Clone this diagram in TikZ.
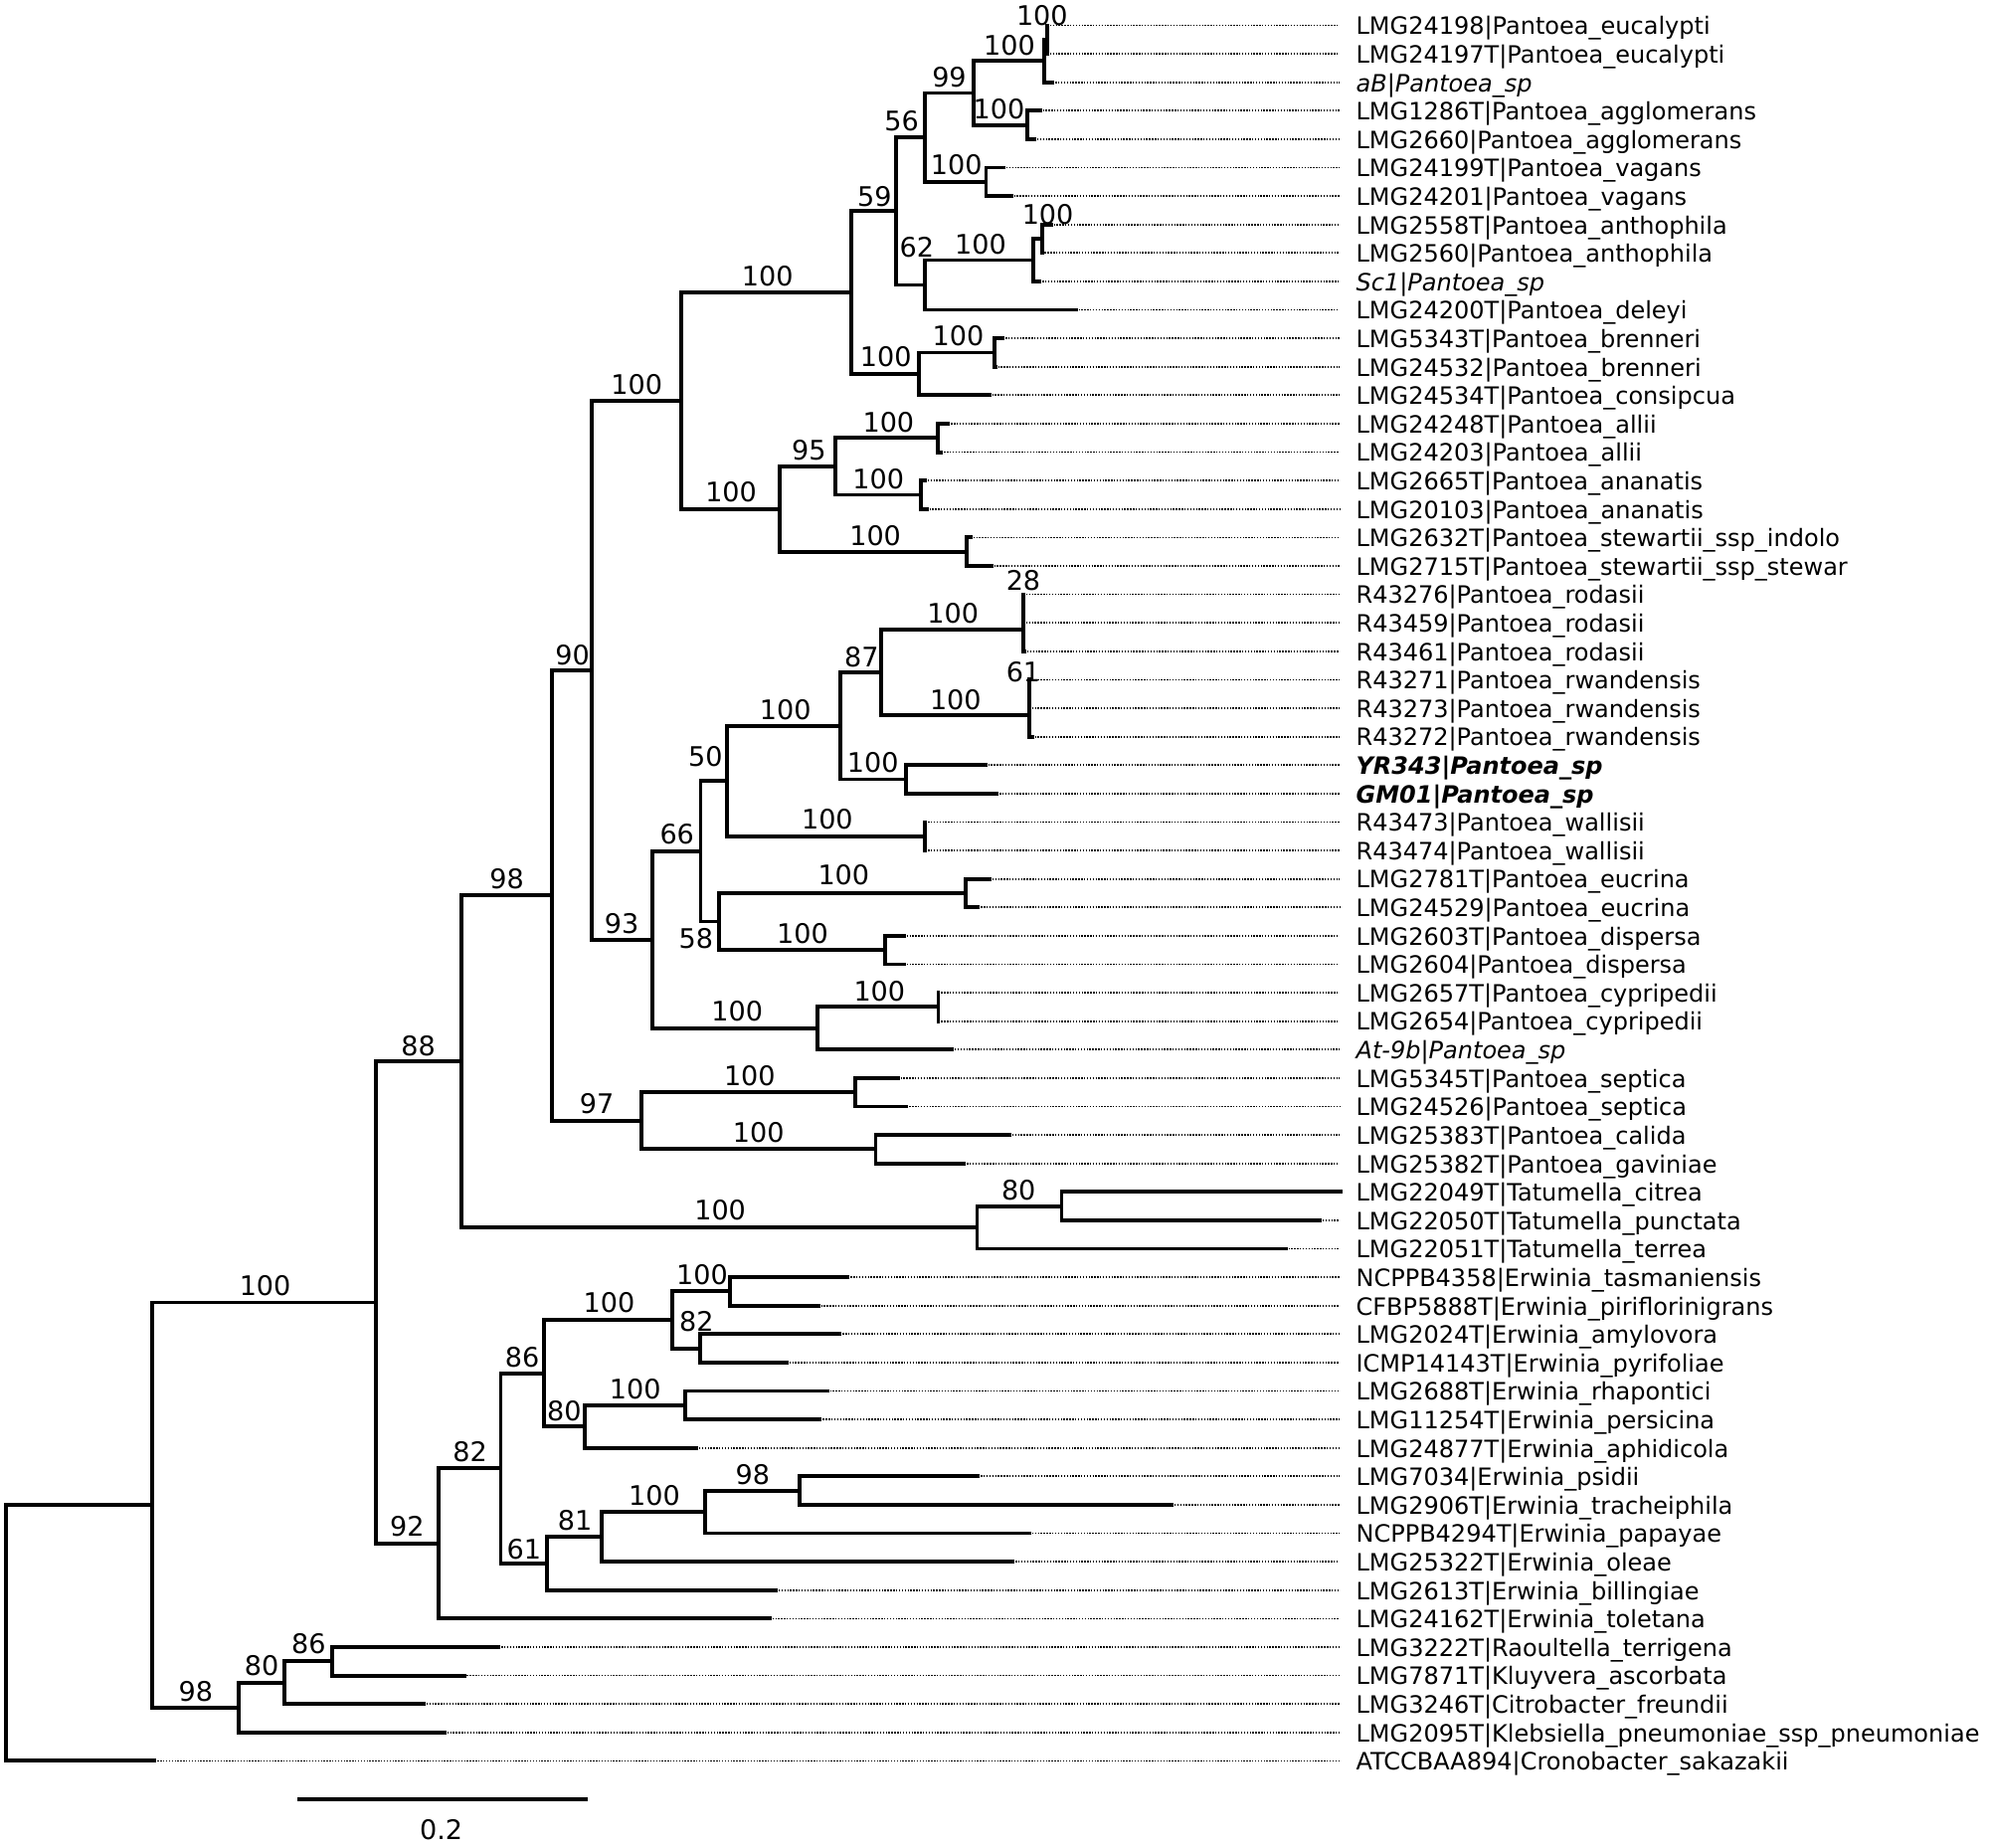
\documentclass[tikz,border=0pt]{standalone}
\usepackage{fontspec}
\setmainfont{DejaVu Sans}[ItalicFont={DejaVu Sans Oblique},BoldFont={DejaVu Sans Bold},BoldItalicFont={DejaVu Sans Bold Oblique}]
\usetikzlibrary{calc}
\pgfmathdeclarefunction{leafy}{1}{\pgfmathparse{20+22.426*(#1-1)}}
\tikzset{
	treeline/.style={line width=1.1pt, line cap=rect},
	dotline/.style={line width=0.5pt, dash pattern=on 0.4pt off 0.42pt},
	leaflab/.style={anchor=base west, inner sep=0pt, yshift=-2.65pt, font=\fontsize{6.83}{8}\selectfont},
	bslab/.style={inner sep=0pt, font=\fontsize{7.7}{9}\selectfont}
}

\begin{document}
\begin{tikzpicture}[x=0.012755cm, y=-0.012755cm]
	\useasboundingbox (0,0) rectangle (1568,1456);
	
	\def\dotend{1055.8};
	\def\labx{1068.5};
	
	\foreach \i/\tx/\lab in {
		1/825.5/{LMG24198|Pantoea\_eucalypti},
		2/825.5/{LMG24197T|Pantoea\_eucalypti},
		3/829.7/{\itshape aB|Pantoea\_sp},
		4/819.8/{LMG1286T|Pantoea\_agglomerans},
		5/815.4/{LMG2660|Pantoea\_agglomerans},
		6/791.1/{LMG24199T|Pantoea\_vagans},
		7/797.1/{LMG24201|Pantoea\_vagans},
		8/828.4/{LMG2558T|Pantoea\_anthophila},
		9/821.3/{LMG2560|Pantoea\_anthophila},
		10/819.5/{\itshape Sc1|Pantoea\_sp},
		11/848/{LMG24200T|Pantoea\_deleyi},
		12/790.5/{LMG5343T|Pantoea\_brenneri},
		13/784.5/{LMG24532|Pantoea\_brenneri},
		14/779.8/{LMG24534T|Pantoea\_consipcua},
		15/747.4/{LMG24248T|Pantoea\_allii},
		16/742/{LMG24203|Pantoea\_allii},
		17/729/{LMG2665T|Pantoea\_ananatis},
		18/730.4/{LMG20103|Pantoea\_ananatis},
		19/765/{LMG2632T|Pantoea\_stewartii\_ssp\_indolo},
		20/781.4/{LMG2715T|Pantoea\_stewartii\_ssp\_stewar},
		21/806.7/{R43276|Pantoea\_rodasii},
		22/806.7/{R43459|Pantoea\_rodasii},
		23/807.5/{R43461|Pantoea\_rodasii},
		24/811.3/{R43271|Pantoea\_rwandensis},
		25/811.3/{R43273|Pantoea\_rwandensis},
		26/813.5/{R43272|Pantoea\_rwandensis},
		27/776.7/{\bfseries\itshape YR343|Pantoea\_sp},
		28/785.8/{\bfseries\itshape GM01|Pantoea\_sp},
		29/729.3/{R43473|Pantoea\_wallisii},
		30/729.3/{R43474|Pantoea\_wallisii},
		31/780/{LMG2781T|Pantoea\_eucrina},
		32/771/{LMG24529|Pantoea\_eucrina},
		33/712.5/{LMG2603T|Pantoea\_dispersa},
		34/712.5/{LMG2604|Pantoea\_dispersa},
		35/739.7/{LMG2657T|Pantoea\_cypripedii},
		36/739.7/{LMG2654|Pantoea\_cypripedii},
		37/750.4/{\itshape At-9b|Pantoea\_sp},
		38/707.7/{LMG5345T|Pantoea\_septica},
		39/714.6/{LMG24526|Pantoea\_septica},
		40/795.7/{LMG25383T|Pantoea\_calida},
		41/759.9/{LMG25382T|Pantoea\_gaviniae},
		42/1056.8/{LMG22049T|Tatumella\_citrea},
		43/1040.4/{LMG22050T|Tatumella\_punctata},
		44/1013.4/{LMG22051T|Tatumella\_terrea},
		45/668.3/{NCPPB4358|Erwinia\_tasmaniensis},
		46/645/{CFBP5888T|Erwinia\_piriflorinigrans},
		47/662/{LMG2024T|Erwinia\_amylovora},
		48/620/{ICMP14143T|Erwinia\_pyrifoliae},
		49/652/{LMG2688T|Erwinia\_rhapontici},
		50/646.4/{LMG11254T|Erwinia\_persicina},
		51/548.8/{LMG24877T|Erwinia\_aphidicola},
		52/770.9/{LMG7034|Erwinia\_psidii},
		53/923.6/{LMG2906T|Erwinia\_tracheiphila},
		54/811.4/{NCPPB4294T|Erwinia\_papayae},
		55/798.3/{LMG25322T|Erwinia\_oleae},
		56/611.5/{LMG2613T|Erwinia\_billingiae},
		57/606.6/{LMG24162T|Erwinia\_toletana},
		58/393/{LMG3222T|Raoultella\_terrigena},
		59/365.8/{LMG7871T|Kluyvera\_ascorbata},
		60/333.9/{LMG3246T|Citrobacter\_freundii},
		61/350.3/{LMG2095T|Klebsiella\_pneumoniae\_ssp\_pneumoniae},
		62/121.8/{ATCCBAA894|Cronobacter\_sakazakii}} {
		\coordinate (t\i) at (\tx, {leafy(\i)});
		\coordinate (e\i) at (\dotend, {leafy(\i)});
		\node [leaflab] (l\i) at (\labx, {leafy(\i)}) {\lab};
		\draw [dotline] (t\i) -- (e\i);
	}
	
	\foreach \n/\nx/\r in {root/4.6/57.5033, A/120/53.0066, B/296.2/45.8882,
		C/345.7/54.3594, D/394.7/51.7188, E/429.1/48.375, F/431.4/55.0625,
		G/460.8/50.25, E1/530.1/46.5, E2/575.6/45.5, E3/552.2/47.5, G1/540.2/49.5,
		n81/474.4/54.125, X/555.9/53.25, Y/630.2/52.5, H/188/60.125, I/224/59.25,
		J/262/58.5, K/363.6/37.417, T/770.3/43.25, T1/836.9/42.5, L/435.3/31.584,
		M/466.8/23.668, N/505.4/39.5, N1/674.5/38.5, N2/690.3/40.5,
		P1/537/14.1953, P2/670.9/10.3906, P3/614.7/18, P4/706.4/7.5313,
		P5/724.4/13.25, P6/729.1/4.9375, P7/729.1/10.125, P8/767.5/3.375,
		P9/777.3/6.5, P10/823.2/2.25, P11/810.1/4.5, P12/825.5/1.5,
		P13/814.5/9.25, P14/821.3/8.5, P15/784.3/12.5, P16/658.6/16.5,
		P17/762/19.5, P18/739.6/15.5, P19/726/17.5, Q/514.2/33.1406,
		R/552.3/30.0313, R1/573.3/27.5625, R2/566.7/32.5, R3/662.7/25.625,
		R4/729.3/29.5, R5/694.8/23.75, R6/714.5/27.5, R7/806.7/22.25,
		R7s/806.7/21.5, R8/811.3/25.25, R8s/811.3/24.5, R9/761.5/31.5,
		R10/697.5/33.5, S/644.7/36.25, S1/739.7/35.5} {
		\coordinate (\n) at (\nx, {leafy(\r)});
	}
	
	\begin{scope}
		\foreach \a/\p/\b in {A/root/t62, B/A/H, K/B/C, D/C/t57, E/D/F, E1/E/G,
			E2/E1/E3, t45/E2/t46, t47/E3/t48, G1/G/t51, t49/G1/t50, n81/F/t56,
			X/n81/t55, Y/X/t54, t52/Y/t53, I/H/t61, J/I/t60, t58/J/t59,
			L/K/T, T1/T/t44, t42/T1/t43, M/L/N, N1/N/N2, t38/N1/t39, t40/N2/t41,
			P1/M/Q, P2/P1/P3, P4/P2/P5, P6/P4/P7, P8/P6/P9, P10/P8/P11,
			P12/P10/t3, t1/P12/t2, t4/P11/t5, t6/P9/t7, P13/P7/t11, P14/P13/t10,
			t8/P14/t9, P15/P5/t14, t12/P15/t13, P16/P3/P17, P18/P16/P19,
			t15/P18/t16, t17/P19/t18, t19/P17/t20, R/Q/S, R1/R/R2, R3/R1/R4,
			R5/R3/R6, R7/R5/R8, R7s/R7/t23, t21/R7s/t22, R8s/R8/t26, t24/R8s/t25,
			t27/R6/t28, t29/R4/t30, R9/R2/R10, t31/R9/t32, t33/R10/t34,
			S1/S/t37, t35/S1/t36} {
			\draw [treeline] (\a) -| (\p) |- (\b);
		}
	\end{scope}
	
	\foreach \x/\y/\v [count=\k] in {209/1013.4/100, 154.4/1333/98, 206.2/1313.3/80,
		243.4/1295.7/86, 329.7/824.5/88, 320.9/1203/92, 399.5/693/98,
		567.7/953.9/100, 451.2/516.1/90, 470.4/870.3/97, 502/303.4/100,
		490.1/727.8/93, 605/218/100, 576.3/387.8/100, 689.4/154.9/59,
		698.3/281.4/100, 710.8/95.2/56, 722.7/194.6/62, 748.3/61/99,
		754/130/100, 795.7/35.8/100, 787.5/85.8/100, 821.5/12.2/100,
		773/192.4/100, 826/168.8/100, 755.3/264.6/100, 637.7/355/95,
		690/422.3/100, 700.4/332.7/100, 692.5/377.5/100, 533.7/657.2/66,
		581.1/797/100, 556.2/596.4/50, 548.7/739.5/58, 619.2/559.2/100,
		652.2/645.5/100, 679.2/518.3/87, 688.1/601.1/100, 751.2/483.5/100,
		753.3/551.4/100, 806.7/457.3/28, 806.7/530/61, 665.1/689.9/100,
		632.7/735.6/100, 693.3/781.4/100, 591/848.1/100, 598/892.5/100,
		803/938.2/80, 370.5/1144/82, 411.7/1069.5/86, 413/1221/61,
		480.2/1027/100, 444.8/1112.2/80, 553.5/1005/100, 549/1041.4/82,
		500.8/1095/100, 453.2/1198.2/81, 515.8/1178.6/100, 593.4/1162.1/98} {
		\node [bslab] (bs\k) at (\x,\y) {\v};
	}
	
	\coordinate (sb1) at (235.6,1418);
	\coordinate (sb2) at (461.9,1418);
	\draw [treeline] (sb1) -- (sb2);
	\node [bslab] (sblab) at (347.8,1442.6) {0.2};
\end{tikzpicture}
\end{document}
